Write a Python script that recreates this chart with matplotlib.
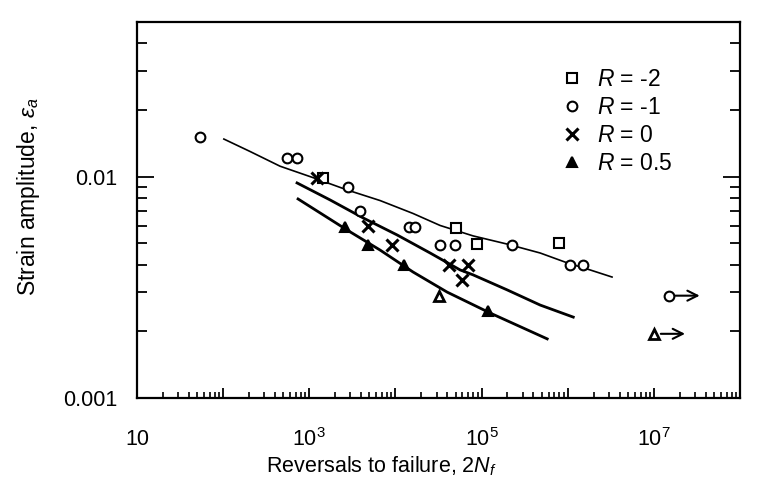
import numpy as np
import matplotlib
matplotlib.use('Agg')
import matplotlib.pyplot as plt
from matplotlib.ticker import FixedLocator, NullFormatter, LogLocator

plt.rcParams['font.family'] = ['Liberation Sans', 'DejaVu Sans']
plt.rcParams['mathtext.fontset'] = 'custom'
plt.rcParams['mathtext.rm'] = 'Liberation Sans'
plt.rcParams['mathtext.it'] = 'Liberation Sans:italic'

# R = -2 (squares)
sq_n = [1450, 50000, 89000, 7.9e5]
sq_e = [0.0099, 0.00587, 0.00496, 0.005]
# R = -1 (circles)
ci_n = [54, 550, 720, 2800, 3900, 14500, 17000, 33000, 49000, 226000, 1.07e6, 1.5e6]
ci_e = [0.0151, 0.0121, 0.0121, 0.0090, 0.0070, 0.0059, 0.0059, 0.0049, 0.0049, 0.0049, 0.0040, 0.0040]
# R = 0 (crosses)
x_n = [1230, 4800, 9100, 42000, 69000, 59000]
x_e = [0.0099, 0.0060, 0.0049, 0.0040, 0.0040, 0.0034]
# R = 0.5 (triangles), filled and open
tri_n = [2600, 4800, 12600, 120000]
tri_e = [0.0059, 0.0049, 0.0040, 0.00246]
tri_open_n = [32000]
tri_open_e = [0.0029]
# run-outs
run_ci = (1.48e7, 0.0029)
run_tri = (1.0e7, 0.00195)

# fitted curves
c1_n = [102, 205, 458, 1107, 2750, 6640, 16000, 33000, 79800, 198000, 479000, 986000, 1.82e6, 3.27e6]
c1_e = [0.01479, 0.01300, 0.01115, 0.00990, 0.00871, 0.00780, 0.00682, 0.00602, 0.00540,
        0.00496, 0.00452, 0.00408, 0.00379, 0.00352]
c2_n = [721, 1745, 4220, 10500, 25300, 56400, 79800, 198000, 479000, 1.16e6]
c2_e = [0.00937, 0.00785, 0.00651, 0.00545, 0.00452, 0.00379, 0.00360, 0.00308, 0.00263, 0.00232]
c3_n = [741, 2750, 6640, 16000, 39800, 126000, 578000]
c3_e = [0.00793, 0.00574, 0.00466, 0.00371, 0.00301, 0.00242, 0.00185]

fig = plt.figure(figsize=(7.67, 4.88), dpi=100)
ax = fig.add_axes([0.1786, 0.1844, 0.7862, 0.7706])

ax.plot(c1_n, c1_e, color='black', lw=1.2, solid_joinstyle='round')
ax.plot(c2_n, c2_e, color='black', lw=2.0, solid_joinstyle='round')
ax.plot(c3_n, c3_e, color='black', lw=2.0, solid_joinstyle='round')

ms = 7
ax.plot(sq_n, sq_e, 's', mfc='white', mec='black', mew=1.5, ms=ms, label=r'$R$ = -2')
ax.plot(ci_n, ci_e, 'o', mfc='white', mec='black', mew=1.5, ms=ms, label=r'$R$ = -1')
ax.plot(x_n, x_e, 'x', color='black', mew=2.2, ms=ms + 1, label=r'$R$ = 0')
ax.plot(tri_n, tri_e, '^', color='black', mew=1.5, ms=ms, label=r'$R$ = 0.5')
ax.plot(tri_open_n, tri_open_e, '^', mfc='white', mec='black', mew=2, ms=ms)
ax.plot([run_ci[0]], [run_ci[1]], 'o', mfc='white', mec='black', mew=1.5, ms=ms)
ax.plot([run_tri[0]], [run_tri[1]], '^', mfc='white', mec='black', mew=2, ms=ms)
for px, py in [run_ci, run_tri]:
    ax.annotate('', xy=(px * 2.3, py), xytext=(px, py),
                arrowprops=dict(arrowstyle='->', lw=1.5, color='black',
                                shrinkA=5, shrinkB=0, mutation_scale=18))

ax.set_xscale('log')
ax.set_yscale('log')
ax.set_xlim(10, 1e8)
ax.set_ylim(0.001, 0.05)

ax.xaxis.set_major_locator(FixedLocator([10.0 ** k for k in range(1, 9)]))
ax.set_xticklabels(['10', '', r'$10^3$', '', r'$10^5$', '', r'$10^7$', ''])
ax.xaxis.set_minor_locator(LogLocator(base=10, subs=np.arange(2, 10), numticks=20))
ax.xaxis.set_minor_formatter(NullFormatter())
ax.set_yticks([0.001, 0.01])
ax.set_yticklabels(['0.001', '0.01'])
ax.yaxis.set_minor_locator(LogLocator(base=10, subs=np.arange(2, 10), numticks=20))
ax.yaxis.set_minor_formatter(NullFormatter())

ax.tick_params(axis='x', which='major', direction='in', length=7, width=1.3,
               labelsize=15.5, pad=22, top=False)
ax.tick_params(axis='x', which='minor', direction='in', length=4, width=1.2, top=False)
ax.tick_params(axis='y', which='major', direction='in', length=12, width=1.3,
               labelsize=15.5, pad=14, right=True)
ax.tick_params(axis='y', which='minor', direction='in', length=7, width=1.3, right=True)
for s in ax.spines.values():
    s.set_linewidth(1.6)

ax.set_xlabel(r'Reversals to failure, 2$N_f$', fontsize=15.5)
ax.xaxis.set_label_coords(0.405, -0.15)
ax.set_ylabel(r'Strain amplitude, $\varepsilon_a$', fontsize=16.5)
ax.yaxis.set_label_coords(-0.158, 0.535)

leg = ax.legend(loc='upper left', bbox_to_anchor=(0.702, 0.878), frameon=False,
                fontsize=16.5, handletextpad=0.6, labelspacing=0.22,
                handlelength=1.0, borderaxespad=0, borderpad=0)

fig.savefig('out.png', dpi=100, facecolor='white')
